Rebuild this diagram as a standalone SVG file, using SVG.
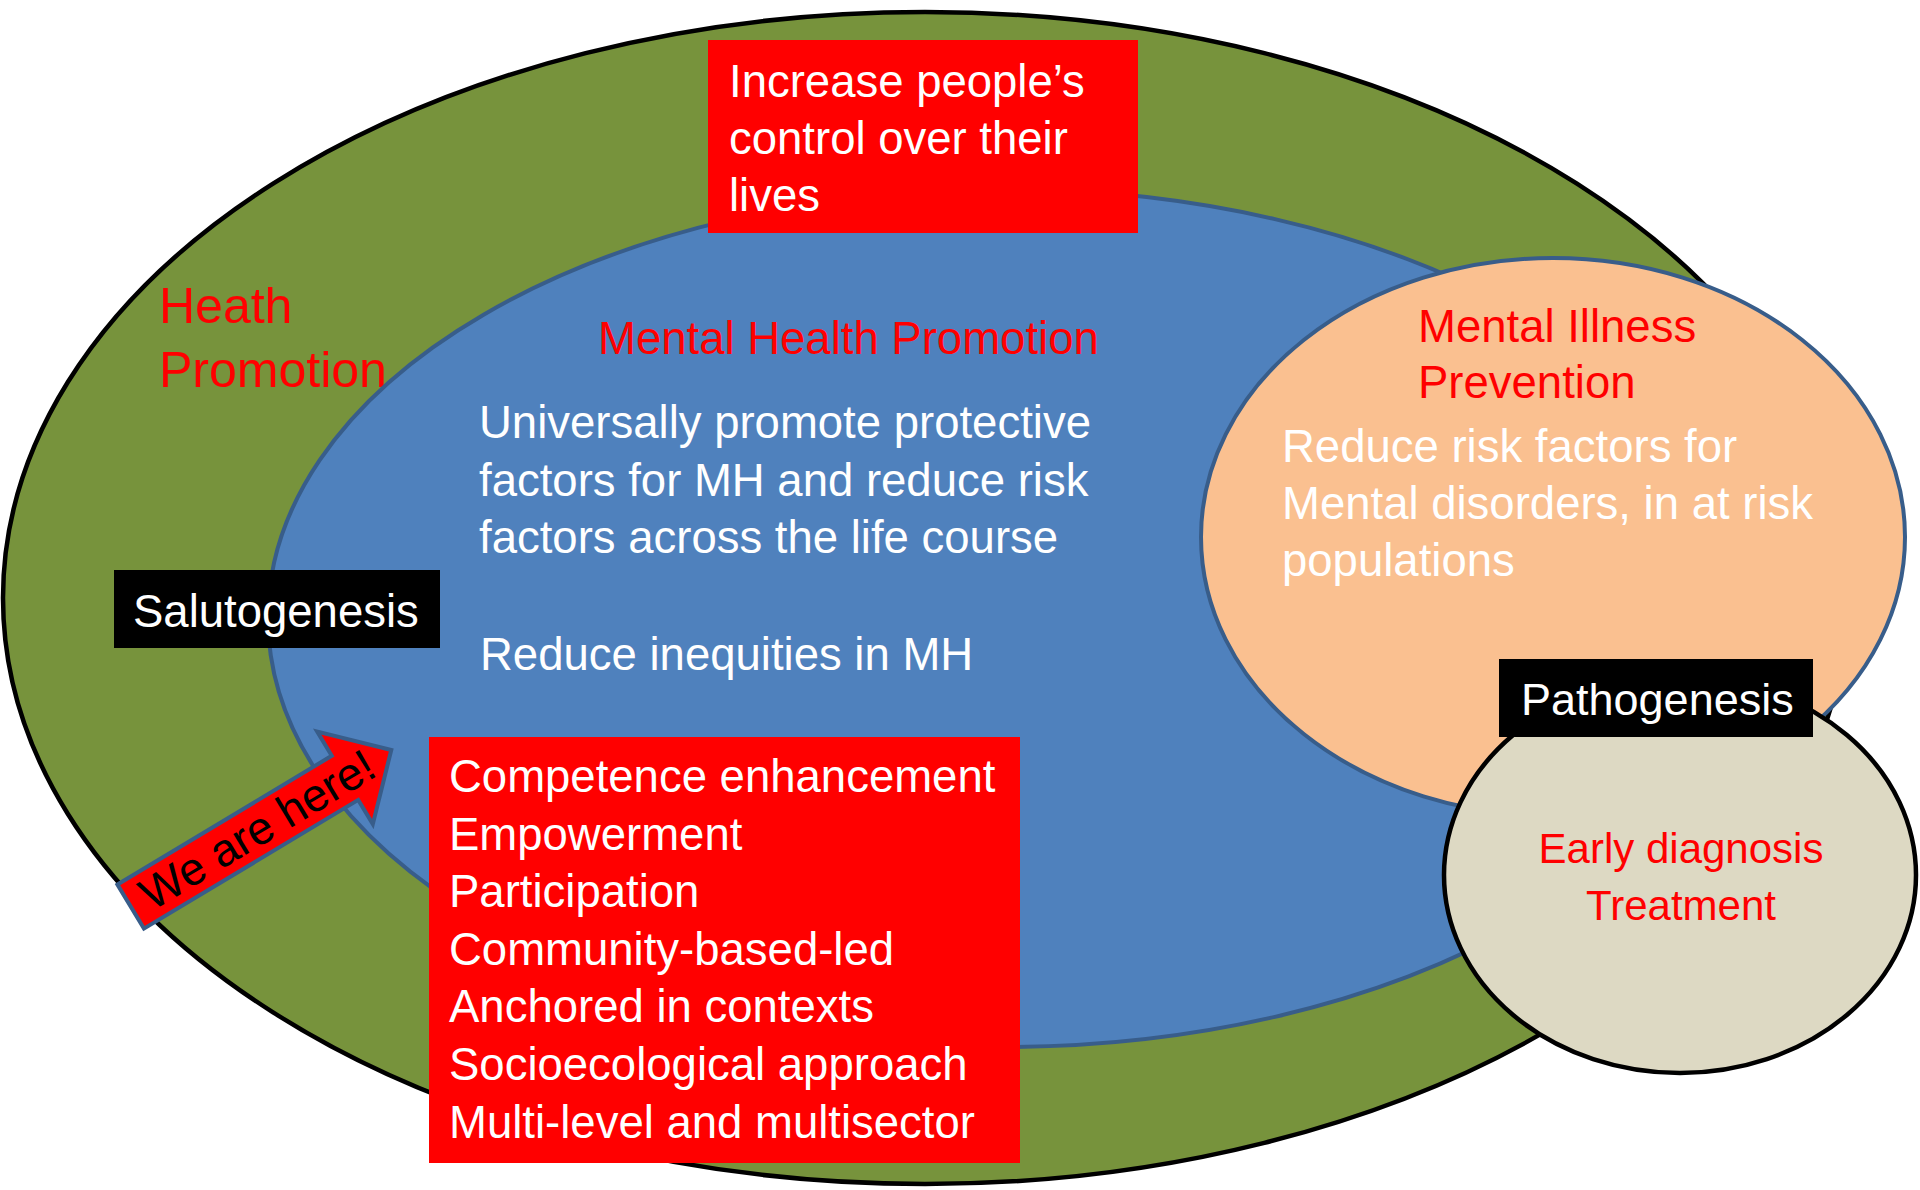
<svg xmlns="http://www.w3.org/2000/svg" width="1920" height="1190" viewBox="0 0 1920 1190">
<style>
  text { font-family: "Liberation Sans", Arial, sans-serif; font-size: 45.5px; }
  .w { fill: #ffffff; }
  .r { fill: #ff0000; }
  .k { fill: #000000; }
  .redbox { fill: #ff0000; }
  .blackbox { fill: #000000; }
  .bluestroke { stroke: #385d8a; stroke-width: 4; }
</style>
<rect x="0" y="0" width="1920" height="1190" fill="#ffffff"/>

<g id="health-promotion">
  <ellipse cx="925" cy="598" rx="922" ry="586" fill="#77933c" stroke="#000000" stroke-width="4.5"/>
  <text class="r" x="159" y="323" style="font-size:50px">Heath</text>
  <text class="r" x="159" y="387" style="font-size:50px">Promotion</text>
</g>

<g id="mental-health-promotion">
  <ellipse cx="1004" cy="618" rx="736" ry="429" fill="#4f81bd" class="bluestroke"/>
  <text class="r" x="598" y="354">Mental Health Promotion</text>
  <text class="w" x="479" y="438">Universally promote protective</text>
  <text class="w" x="479" y="496">factors for MH and reduce risk</text>
  <text class="w" x="479" y="553">factors across the life course</text>
  <text class="w" x="480" y="670">Reduce inequities in MH</text>
</g>

<g id="mental-illness-prevention">
  <ellipse cx="1553" cy="537" rx="352" ry="279" fill="#fac090" class="bluestroke"/>
  <text class="r" x="1418" y="342">Mental Illness</text>
  <text class="r" x="1418" y="398">Prevention</text>
  <text class="w" x="1282" y="462">Reduce risk factors for</text>
  <text class="w" x="1282" y="519">Mental disorders, in at risk</text>
  <text class="w" x="1282" y="576">populations</text>
</g>

<g id="treatment">
  <ellipse cx="1680" cy="875" rx="236" ry="198" fill="#ddd9c3" stroke="#000000" stroke-width="4.5"/>
  <text class="r" x="1681" y="863" text-anchor="middle" style="font-size:42px">Early diagnosis</text>
  <text class="r" x="1681" y="920" text-anchor="middle" style="font-size:42px">Treatment</text>
</g>

<g id="control-box">
  <rect class="redbox" x="708" y="40" width="430" height="193"/>
  <text class="w" x="729" y="97">Increase people’s</text>
  <text class="w" x="729" y="154">control over their</text>
  <text class="w" x="729" y="211">lives</text>
</g>

<g id="principles-box">
  <rect class="redbox" x="429" y="737" width="591" height="426"/>
  <text class="w" x="449" y="792">Competence enhancement</text>
  <text class="w" x="449" y="850">Empowerment</text>
  <text class="w" x="449" y="907">Participation</text>
  <text class="w" x="449" y="965">Community-based-led</text>
  <text class="w" x="449" y="1022">Anchored in contexts</text>
  <text class="w" x="449" y="1080">Socioecological approach</text>
  <text class="w" x="449" y="1138">Multi-level and multisector</text>
</g>

<g id="salutogenesis">
  <rect class="blackbox" x="114" y="570" width="326" height="78"/>
  <text class="w" x="133" y="627">Salutogenesis</text>
</g>

<g id="pathogenesis">
  <rect class="blackbox" x="1499" y="659" width="314" height="78"/>
  <text class="w" x="1521" y="715" style="font-size:45px">Pathogenesis</text>
</g>

<g id="we-are-here" transform="translate(130.7,906.6) rotate(-31)">
  <polygon points="0,-25.7 250,-25.7 250,-54 304,0 250,54 250,25.7 0,25.7" fill="#ff0000" class="bluestroke" stroke-linejoin="miter"/>
  <text class="k" x="148" y="15" text-anchor="middle" style="font-size:46px">We are here!</text>
</g>

<g id="connectors"></g>
</svg>
